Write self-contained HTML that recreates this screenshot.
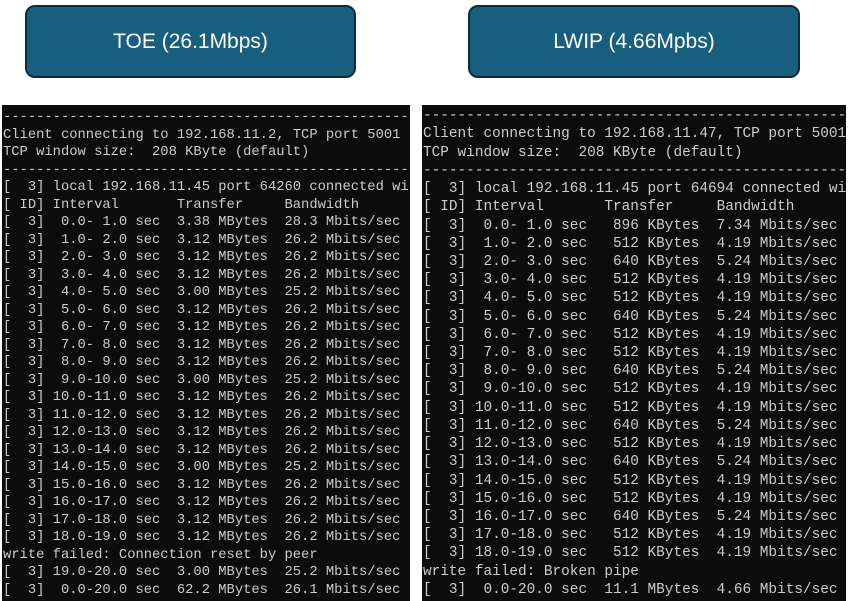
<!DOCTYPE html>
<html><head><meta charset="utf-8"><style>
body{margin:0;width:854px;height:601px;background:#fff;position:relative;overflow:hidden;font-family:"Liberation Sans",sans-serif}
.btn{position:absolute;top:5px;height:73px;width:329px;background:#185f7f;border:2px solid #0f2a38;border-radius:10px;color:#fff;font-size:21px;display:flex;align-items:center;justify-content:center;box-sizing:border-box}
.term{position:absolute;top:105px;bottom:0;background:#0c0c0c;overflow:hidden}
pre{position:absolute;left:1px;margin:0;color:#cccccc;font-family:"Liberation Mono",monospace;white-space:pre}
</style></head><body>
<div class="btn" style="left:25px;width:331px">TOE (26.1Mbps)</div>
<div class="btn" style="left:468px;width:332px">LWIP (4.66Mpbs)</div>
<div class="term" style="left:2px;width:408px">
<pre style="top:4.3px;font-size:13.8px;line-height:17.5px">------------------------------------------------------------
Client connecting to 192.168.11.2, TCP port 5001
TCP window size:  208 KByte (default)
------------------------------------------------------------
[  3] local 192.168.11.45 port 64260 connected with
[ ID] Interval       Transfer     Bandwidth
[  3]  0.0- 1.0 sec  3.38 MBytes  28.3 Mbits/sec
[  3]  1.0- 2.0 sec  3.12 MBytes  26.2 Mbits/sec
[  3]  2.0- 3.0 sec  3.12 MBytes  26.2 Mbits/sec
[  3]  3.0- 4.0 sec  3.12 MBytes  26.2 Mbits/sec
[  3]  4.0- 5.0 sec  3.00 MBytes  25.2 Mbits/sec
[  3]  5.0- 6.0 sec  3.12 MBytes  26.2 Mbits/sec
[  3]  6.0- 7.0 sec  3.12 MBytes  26.2 Mbits/sec
[  3]  7.0- 8.0 sec  3.12 MBytes  26.2 Mbits/sec
[  3]  8.0- 9.0 sec  3.12 MBytes  26.2 Mbits/sec
[  3]  9.0-10.0 sec  3.00 MBytes  25.2 Mbits/sec
[  3] 10.0-11.0 sec  3.12 MBytes  26.2 Mbits/sec
[  3] 11.0-12.0 sec  3.12 MBytes  26.2 Mbits/sec
[  3] 12.0-13.0 sec  3.12 MBytes  26.2 Mbits/sec
[  3] 13.0-14.0 sec  3.12 MBytes  26.2 Mbits/sec
[  3] 14.0-15.0 sec  3.00 MBytes  25.2 Mbits/sec
[  3] 15.0-16.0 sec  3.12 MBytes  26.2 Mbits/sec
[  3] 16.0-17.0 sec  3.12 MBytes  26.2 Mbits/sec
[  3] 17.0-18.0 sec  3.12 MBytes  26.2 Mbits/sec
[  3] 18.0-19.0 sec  3.12 MBytes  26.2 Mbits/sec
write failed: Connection reset by peer
[  3] 19.0-20.0 sec  3.00 MBytes  25.2 Mbits/sec
[  3]  0.0-20.0 sec  62.2 MBytes  26.1 Mbits/sec</pre>
</div>
<div class="term" style="left:422px;width:424px">
<pre style="top:2.2px;font-size:14.4px;line-height:18.22px">------------------------------------------------------------
Client connecting to 192.168.11.47, TCP port 5001
TCP window size:  208 KByte (default)
------------------------------------------------------------
[  3] local 192.168.11.45 port 64694 connected with
[ ID] Interval       Transfer     Bandwidth
[  3]  0.0- 1.0 sec   896 KBytes  7.34 Mbits/sec
[  3]  1.0- 2.0 sec   512 KBytes  4.19 Mbits/sec
[  3]  2.0- 3.0 sec   640 KBytes  5.24 Mbits/sec
[  3]  3.0- 4.0 sec   512 KBytes  4.19 Mbits/sec
[  3]  4.0- 5.0 sec   512 KBytes  4.19 Mbits/sec
[  3]  5.0- 6.0 sec   640 KBytes  5.24 Mbits/sec
[  3]  6.0- 7.0 sec   512 KBytes  4.19 Mbits/sec
[  3]  7.0- 8.0 sec   512 KBytes  4.19 Mbits/sec
[  3]  8.0- 9.0 sec   640 KBytes  5.24 Mbits/sec
[  3]  9.0-10.0 sec   512 KBytes  4.19 Mbits/sec
[  3] 10.0-11.0 sec   512 KBytes  4.19 Mbits/sec
[  3] 11.0-12.0 sec   640 KBytes  5.24 Mbits/sec
[  3] 12.0-13.0 sec   512 KBytes  4.19 Mbits/sec
[  3] 13.0-14.0 sec   640 KBytes  5.24 Mbits/sec
[  3] 14.0-15.0 sec   512 KBytes  4.19 Mbits/sec
[  3] 15.0-16.0 sec   512 KBytes  4.19 Mbits/sec
[  3] 16.0-17.0 sec   640 KBytes  5.24 Mbits/sec
[  3] 17.0-18.0 sec   512 KBytes  4.19 Mbits/sec
[  3] 18.0-19.0 sec   512 KBytes  4.19 Mbits/sec
write failed: Broken pipe
[  3]  0.0-20.0 sec  11.1 MBytes  4.66 Mbits/sec</pre>
</div>
</body></html>
